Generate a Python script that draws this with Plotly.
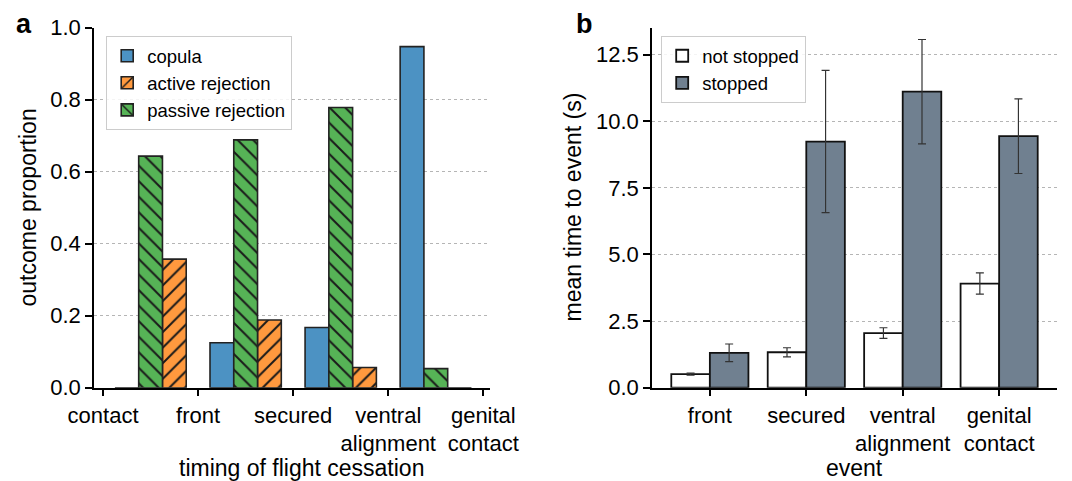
import plotly.graph_objects as go

# ---------------- data ----------------
events_a = ["contact", "front", "secured", "ventral<br>alignment", "genital<br>contact"]
copula = [0.0, 0.125, 0.167, 0.947]
active_rejection = [0.357, 0.188, 0.056, 0.0]
passive_rejection = [0.643, 0.688, 0.778, 0.053]

events_b = ["front", "secured", "ventral<br>alignment", "genital<br>contact"]
not_stopped = [0.51, 1.33, 2.05, 3.91]
not_stopped_err = [0.04, 0.17, 0.20, 0.40]
stopped = [1.31, 9.24, 11.11, 9.44]
stopped_err = [0.33, 2.67, 1.96, 1.40]

yticks_a = [0.0, 0.2, 0.4, 0.6, 0.8, 1.0]
yticks_b = [0.0, 2.5, 5.0, 7.5, 10.0, 12.5]

# ---------------- styling ----------------
OFF = 8  # page body margin in the browser
W, H = 1072 - OFF, 481 - OFF
FONT = "Liberation Sans, Arial, Helvetica, sans-serif"
C_BLUE = "#4c92c3"
C_ORANGE = "#ff993e"
C_GREEN = "#56b356"
C_SLATE = "#708090"
EDGE = "#222222"


def px_x(p):
    return (p - OFF) / W


def px_y(p):
    return 1 - (p - OFF) / H


fig = go.Figure()

# positions of interval groups (between consecutive events)
xa = [i + 0.5 for i in range(len(copula))]
bw_a = 0.25

fig.add_trace(go.Bar(
    x=xa, y=copula, name="copula", width=bw_a, offset=-1.5 * bw_a,
    marker=dict(color=C_BLUE, line=dict(color=EDGE, width=1.6)),
    xaxis="x", yaxis="y", legend="legend",
))
fig.add_trace(go.Bar(
    x=xa, y=active_rejection, name="active rejection", width=bw_a, offset=0.5 * bw_a,
    marker=dict(color=C_ORANGE, line=dict(color=EDGE, width=1.6),
                pattern=dict(shape="/", fgcolor="#1a1a1a", bgcolor=C_ORANGE,
                             size=11, solidity=0.18, fillmode="replace")),
    xaxis="x", yaxis="y", legend="legend",
))
fig.add_trace(go.Bar(
    x=xa, y=passive_rejection, name="passive rejection", width=bw_a, offset=-0.5 * bw_a,
    marker=dict(color=C_GREEN, line=dict(color=EDGE, width=1.6),
                pattern=dict(shape="\\", fgcolor="#1a1a1a", bgcolor=C_GREEN,
                             size=11, solidity=0.18, fillmode="replace")),
    xaxis="x", yaxis="y", legend="legend",
))

xb = list(range(len(events_b)))
bw_b = 0.4
fig.add_trace(go.Bar(
    x=xb, y=not_stopped, name="not stopped", width=bw_b, offset=-bw_b,
    marker=dict(color="white", line=dict(color="#111111", width=1.8)),
    error_y=dict(type="data", array=not_stopped_err, color="#333333", thickness=1.2, width=4),
    xaxis="x2", yaxis="y2", legend="legend2",
))
fig.add_trace(go.Bar(
    x=xb, y=stopped, name="stopped", width=bw_b, offset=0,
    marker=dict(color=C_SLATE, line=dict(color="#111111", width=1.8)),
    error_y=dict(type="data", array=stopped_err, color="#333333", thickness=1.2, width=4),
    xaxis="x2", yaxis="y2", legend="legend2",
))

ydom = [px_y(387.7), px_y(27.5)]
common_x = dict(showline=True, linecolor="black", linewidth=1.5, ticks="outside",
                ticklen=7, tickwidth=1.5, tickcolor="black", showgrid=False,
                zeroline=False, automargin=False,
                tickfont=dict(size=22, color="black", family=FONT))
common_y = dict(showline=True, linecolor="black", linewidth=1.5, ticks="outside",
                ticklen=7, tickwidth=1.5, tickcolor="black", showgrid=True,
                gridcolor="#b5b5b5", gridwidth=1.2, griddash="dot", zeroline=False,
                automargin=False,
                tickfont=dict(size=22, color="black", family=FONT), tickformat=".1f")

fig.update_layout(
    template="none",
    width=W, height=H,
    margin=dict(l=0, r=0, t=0, b=0, pad=0, autoexpand=False),
    paper_bgcolor="white", plot_bgcolor="white",
    font=dict(family=FONT, color="black"),
    barmode="overlay",
    showlegend=True,
    xaxis=dict(domain=[px_x(94), px_x(490)], range=[-0.095, 4.07],
               tickmode="array", tickvals=list(range(len(events_a))), ticktext=events_a,
               anchor="y", **common_x),
    yaxis=dict(domain=ydom, range=[0, 1.0], tickmode="array", tickvals=yticks_a,
               anchor="x", **common_y),
    xaxis2=dict(domain=[px_x(652), px_x(1057)], range=[-0.6, 3.6],
                tickmode="array", tickvals=xb, ticktext=events_b,
                anchor="y2", **common_x),
    yaxis2=dict(domain=ydom, range=[0, 13.52], tickmode="array", tickvals=yticks_b,
                anchor="x2", **common_y),
    legend=dict(x=px_x(106), y=px_y(36), xanchor="left", yanchor="top",
                bgcolor="rgba(255,255,255,0.85)", bordercolor="#cccccc", borderwidth=1.2,
                font=dict(size=18.5, family=FONT, color="black"), tracegroupgap=0,
                traceorder="normal"),
    legend2=dict(x=px_x(661), y=px_y(36), xanchor="left", yanchor="top",
                 bgcolor="rgba(255,255,255,0.85)", bordercolor="#cccccc", borderwidth=1.2,
                 font=dict(size=18.5, family=FONT, color="black"), tracegroupgap=0,
                 traceorder="normal"),
)

annotations = [
    dict(text="<b>a</b>", x=px_x(14), y=px_y(41), xanchor="left", yanchor="bottom",
         font=dict(size=27, family=FONT, color="black")),
    dict(text="<b>b</b>", x=px_x(574), y=px_y(41), xanchor="left", yanchor="bottom",
         font=dict(size=27, family=FONT, color="black")),
    dict(text="outcome proportion", x=px_x(27), y=px_y(207.5), textangle=-90,
         xanchor="center", yanchor="middle", font=dict(size=23, family=FONT, color="black")),
    dict(text="mean time to event (s)", x=px_x(572), y=px_y(207.5), textangle=-90,
         xanchor="center", yanchor="middle", font=dict(size=23, family=FONT, color="black")),
    dict(text="timing of flight cessation", x=px_x(301), y=px_y(468),
         xanchor="center", yanchor="middle", font=dict(size=23, family=FONT, color="black")),
    dict(text="event", x=px_x(854), y=px_y(468),
         xanchor="center", yanchor="middle", font=dict(size=23, family=FONT, color="black")),
]
for a in annotations:
    a.update(xref="paper", yref="paper", showarrow=False)
fig.update_layout(annotations=annotations)

fig.write_html("out.html")
